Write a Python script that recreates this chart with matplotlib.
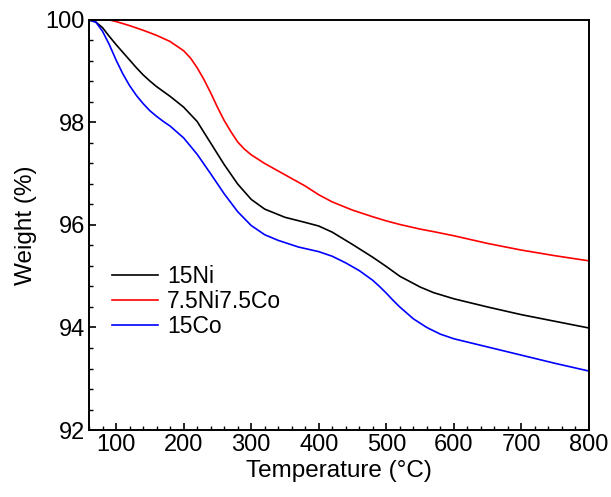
import numpy as np
import matplotlib.pyplot as plt
from matplotlib.ticker import MultipleLocator

plt.rcParams["font.family"] = ["Liberation Sans", "DejaVu Sans"]

# temperature (deg C) and weight (%)
temp_ni = [60, 70, 80, 90, 100, 110, 120, 130, 140, 150, 160, 180, 200, 220, 240, 260,
           280, 300, 320, 350, 380, 400, 420, 450, 480, 500, 520, 550, 570, 600, 650,
           700, 750, 800]
w_15ni = [100.0, 99.96, 99.85, 99.68, 99.52, 99.37, 99.22, 99.07, 98.93, 98.81, 98.70,
          98.51, 98.30, 98.02, 97.60, 97.18, 96.80, 96.50, 96.31, 96.15, 96.05, 95.98,
          95.86, 95.62, 95.37, 95.19, 95.00, 94.79, 94.68, 94.56, 94.40, 94.25, 94.12,
          93.99]

temp_nico = [60, 80, 90, 100, 120, 140, 160, 180, 200, 210, 220, 230, 240, 250, 260,
             270, 280, 290, 300, 320, 350, 380, 400, 420, 450, 480, 500, 520, 550, 570,
             600, 650, 700, 750, 800]
w_nico = [100.0, 100.0, 100.0, 99.97, 99.89, 99.80, 99.70, 99.58, 99.40, 99.26, 99.07,
          98.84, 98.58, 98.30, 98.04, 97.82, 97.62, 97.48, 97.37, 97.20, 96.98, 96.76,
          96.59, 96.45, 96.29, 96.16, 96.08, 96.01, 95.92, 95.87, 95.79, 95.64, 95.51,
          95.40, 95.30]

temp_co = [60, 70, 80, 90, 100, 110, 120, 130, 140, 150, 160, 170, 180, 200, 220, 240,
           260, 280, 300, 320, 340, 370, 400, 420, 440, 460, 480, 490, 500, 510, 520,
           540, 560, 580, 600, 650, 700, 750, 800]
w_15co = [100.0, 99.96, 99.78, 99.52, 99.22, 98.95, 98.72, 98.53, 98.37, 98.23, 98.12,
          98.02, 97.93, 97.70, 97.38, 97.00, 96.61, 96.26, 95.99, 95.81, 95.70, 95.57,
          95.48, 95.39, 95.26, 95.11, 94.92, 94.80, 94.67, 94.53, 94.40, 94.17, 94.00,
          93.87, 93.78, 93.62, 93.46, 93.30, 93.15]

fig = plt.figure(figsize=(6.11, 4.97), dpi=100)
ax = fig.add_axes([0.1457, 0.1348, 0.8183, 0.825])

ax.plot(temp_ni, w_15ni, color="black", lw=1.2, label="15Ni")
ax.plot(temp_nico, w_nico, color="#ff0000", lw=1.2, label="7.5Ni7.5Co")
ax.plot(temp_co, w_15co, color="#0000ff", lw=1.2, label="15Co")

ax.set_xlim(60, 800)
ax.set_ylim(92, 100)
ax.xaxis.set_major_locator(MultipleLocator(100))
ax.xaxis.set_minor_locator(MultipleLocator(20))
ax.yaxis.set_major_locator(MultipleLocator(2))
ax.yaxis.set_minor_locator(MultipleLocator(0.4))
ax.tick_params(which="both", direction="in", top=False, right=False, labelsize=17)
ax.tick_params(which="major", length=5, width=1.2, pad=3)
ax.tick_params(which="minor", length=3, width=1.0)
for sp in ax.spines.values():
    sp.set_linewidth(1.4)

ax.set_xlabel("Temperature (\u00b0C)", fontsize=17.5, labelpad=3)
ax.set_ylabel("Weight (%)", fontsize=17.5, labelpad=6)

ax.legend(loc="lower left", bbox_to_anchor=(0.005, 0.173), frameon=False, fontsize=16.5,
          handlelength=2.0, handletextpad=0.4, labelspacing=0.1)

fig.savefig("out.png", dpi=100)
